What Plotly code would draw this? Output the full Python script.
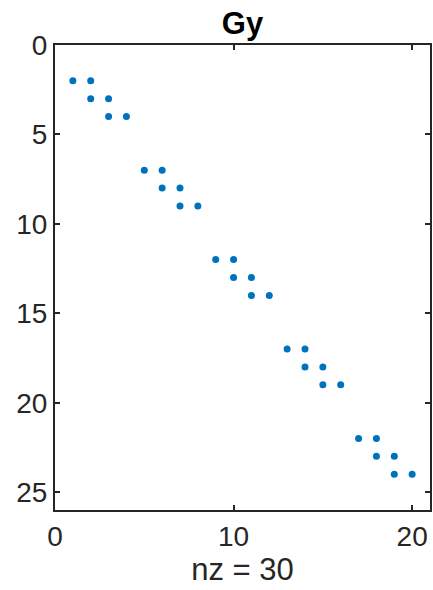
import plotly.graph_objects as go

cols = [1, 2, 2, 3, 3, 4, 5, 6, 6, 7, 7, 8, 9, 10, 10, 11, 11, 12,
        13, 14, 14, 15, 15, 16, 17, 18, 18, 19, 19, 20]
rows = [2, 2, 3, 3, 4, 4, 7, 7, 8, 8, 9, 9, 12, 12, 13, 13, 14, 14,
        17, 17, 18, 18, 19, 19, 22, 22, 23, 23, 24, 24]
title = "Gy"
xlabel = "nz = 30"

FONT = "Liberation Sans, Arial, Helvetica, sans-serif"

fig = go.Figure(go.Scatter(
    x=cols, y=rows, mode="markers",
    marker=dict(size=7, color="#0072BD", line=dict(width=0)),
))

axis_common = dict(
    showgrid=False, zeroline=False, showline=True, linecolor="#262626",
    linewidth=2, mirror="ticks", ticks="inside", ticklen=5, tickwidth=2,
    tickcolor="#262626",
    tickfont=dict(family=FONT, size=28, color="#262626"),
)

fig.update_layout(
    width=433, height=590,
    margin=dict(l=55, r=3, t=45, b=80),
    paper_bgcolor="white", plot_bgcolor="white",
    showlegend=False,
    title=dict(text="<b>" + title + "</b>", xref="paper", x=0.5, xanchor="center",
               y=0.96, yanchor="middle",
               font=dict(family=FONT, size=31, color="black")),
    xaxis=dict(range=[0, 21], tickvals=[0, 10, 20], automargin=False,
               title=dict(text=xlabel, standoff=0,
                          font=dict(family=FONT, size=31, color="#262626")),
               **axis_common),
    yaxis=dict(range=[26, 0], tickvals=[0, 5, 10, 15, 20, 25], automargin=False,
               **axis_common),
)

fig.write_html(
    "out.html",
    config={"displayModeBar": False},
    post_script="document.body.style.margin='0';document.body.style.overflow='hidden';"
                "document.documentElement.style.overflow='hidden';",
)
